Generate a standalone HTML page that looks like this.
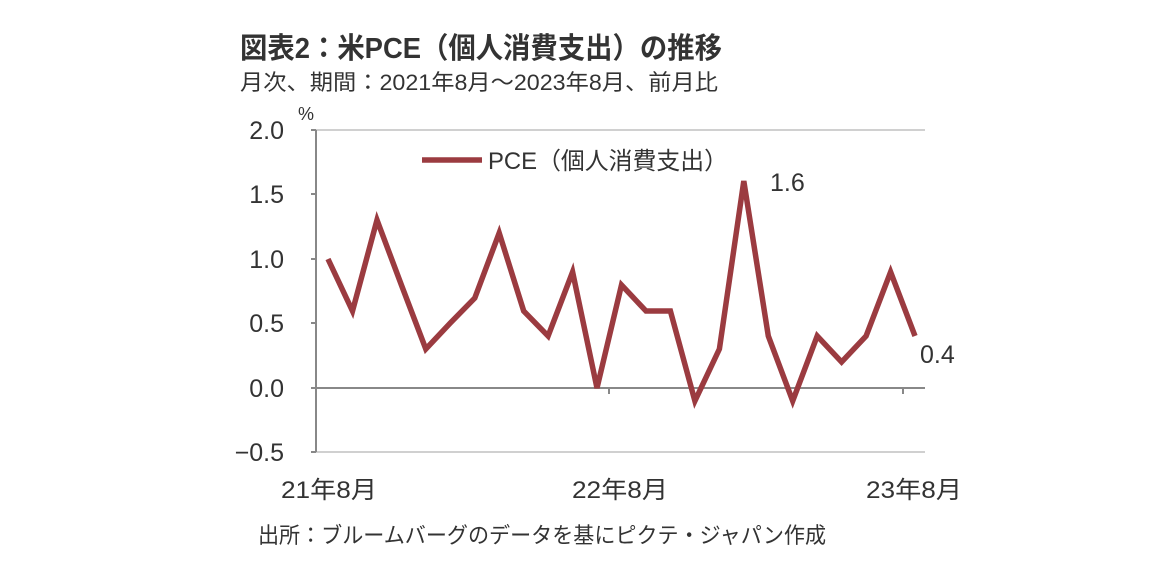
<!DOCTYPE html>
<html><head><meta charset="utf-8"><style>
body{margin:0;background:#fff;width:1152px;height:571px;overflow:hidden}
svg text{font-family:"Liberation Sans","Noto Sans CJK JP",sans-serif;fill:#333}
</style></head><body>
<svg width="1152" height="571" viewBox="0 0 1152 571">
<text x="240" y="58" font-size="29" font-weight="bold" fill="#333" textLength="482" lengthAdjust="spacingAndGlyphs">図表2：米PCE（個人消費支出）の推移</text>
<text x="240" y="90" font-size="22" textLength="478" lengthAdjust="spacingAndGlyphs">月次、期間：2021年8月～2023年8月、前月比</text>
<text x="298" y="120" font-size="18">%</text>
<line x1="316" y1="130" x2="925" y2="130" stroke="#d0d0d0" stroke-width="2"/>
<line x1="316" y1="452" x2="925" y2="452" stroke="#d0d0d0" stroke-width="2"/>
<line x1="316" y1="388" x2="925" y2="388" stroke="#888" stroke-width="2"/>
<line x1="316" y1="130" x2="316" y2="452" stroke="#888" stroke-width="2"/>
<g stroke="#888" stroke-width="2">
<line x1="311" y1="130" x2="316" y2="130"/><line x1="311" y1="194" x2="316" y2="194"/>
<line x1="311" y1="259" x2="316" y2="259"/><line x1="311" y1="323" x2="316" y2="323"/>
<line x1="311" y1="388" x2="316" y2="388"/><line x1="311" y1="452" x2="316" y2="452"/>
<line x1="609" y1="388" x2="609" y2="394"/><line x1="903" y1="388" x2="903" y2="394"/>
</g>
<g font-size="25" text-anchor="end">
<text x="284" y="139">2.0</text><text x="284" y="203">1.5</text><text x="284" y="268">1.0</text>
<text x="284" y="332">0.5</text><text x="284" y="397">0.0</text><text x="284" y="461">−0.5</text>
</g>
<g font-size="24">
<text x="281" y="498" textLength="96" lengthAdjust="spacingAndGlyphs">21年8月</text>
<text x="572" y="498" textLength="96" lengthAdjust="spacingAndGlyphs">22年8月</text>
<text x="866" y="498" textLength="96" lengthAdjust="spacingAndGlyphs">23年8月</text>
</g>
<polyline fill="none" stroke="#9b3b40" stroke-width="5.5" stroke-linejoin="miter" points="328,259 352.5,311 377,220 401.4,285 425.8,349 450.3,323 474.8,298 499.2,233 523.7,311 548.1,336 572.6,272 597,388 621.5,285 646,311 670.4,311 694.9,401 719.4,349 743.8,181 768.3,336 792.7,401 817.2,336 841.6,362 866.1,336 890.6,272 915,336"/>
<line x1="422" y1="160" x2="482" y2="160" stroke="#9b3b40" stroke-width="5.5"/>
<text x="488" y="169" font-size="24" textLength="240" lengthAdjust="spacingAndGlyphs">PCE（個人消費支出）</text>
<text x="770" y="191" font-size="25">1.6</text>
<text x="920" y="363" font-size="25">0.4</text>
<text x="258" y="543" font-size="22" textLength="568" lengthAdjust="spacingAndGlyphs">出所：ブルームバーグのデータを基にピクテ・ジャパン作成</text>
</svg>
</body></html>
